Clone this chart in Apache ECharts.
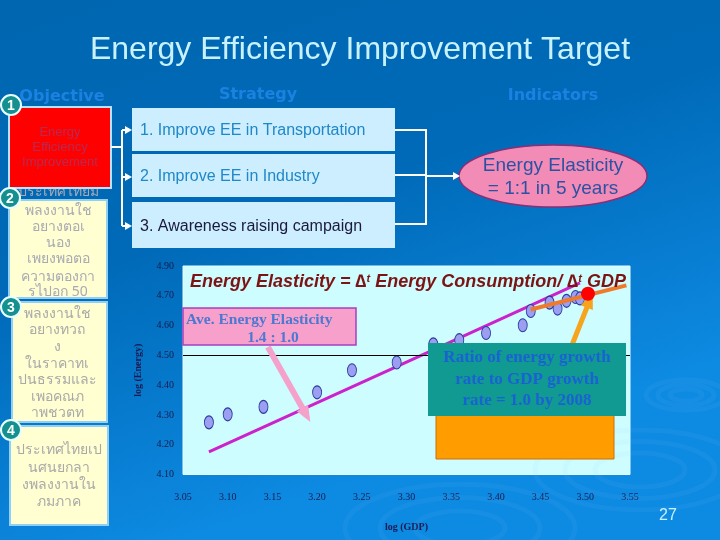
<!DOCTYPE html>
<html><head><meta charset="utf-8">
<script src="https://cdn.jsdelivr.net/npm/echarts@6/dist/echarts.min.js"></script>
<style>html,body{margin:0;padding:0;background:#0068b2;}#c{width:720px;height:540px;}</style>
</head><body><div id="c"></div>
<script>
// ---- data ----
const xTicks = ['3.05','3.10','3.15','3.20','3.25','3.30','3.35','3.40','3.45','3.50','3.55'];
const yTicks = ['4.10','4.20','4.30','4.40','4.50','4.60','4.70','4.90'];
const logGDP    = [3.079,3.100,3.140,3.200,3.239,3.289,3.330,3.359,3.389,3.430,3.439,3.460,3.469,3.479,3.489,3.494];
const logEnergy = [4.275,4.302,4.327,4.376,4.450,4.476,4.537,4.551,4.575,4.601,4.649,4.677,4.657,4.683,4.696,4.691];
const latestX = [3.503];
const latestY = [4.707];
const avgTrendX = [3.079, 3.289, 3.494];
const avgTrendY = [4.176, 4.462, 4.743];
const targetTrendX = [3.439, 3.546];
const targetTrendY = [4.654, 4.735];
const referenceLevel = 4.5;
const pinkArrowFrom = [3.145, 4.528], pinkArrowTo = [3.188, 4.300];
const orangeArrowFrom = [3.485, 4.534], orangeArrowTo = [3.505, 4.685];

const zip = (a, b) => a.map((v, i) => [v, b[i]]);

const chart = echarts.init(document.getElementById('c'), null, {renderer: 'canvas'});

const SANS = '"Liberation Sans", Arial, sans-serif';
const VERD = '"DejaVu Sans", Verdana, sans-serif';
const SERIF = '"Liberation Serif", "Times New Roman", serif';
const THAI = '"Noto Sans", "DejaVu Sans", sans-serif';

function txt(x, y, text, font, fill, align, z) {
  return {type: 'text', x: x, y: y, z: z || 20, silent: true,
    style: {text: text, font: font, fill: fill, align: align || 'center', textAlign: align || 'center',
      verticalAlign: 'middle', textVerticalAlign: 'middle'}};
}
function line(x1, y1, x2, y2, color, w, z) {
  return {type: 'line', z: z || 15, silent: true, shape: {x1, y1, x2, y2}, style: {stroke: color, lineWidth: w}};
}
function head(x, y, color, z) { // right-pointing small arrowhead ending at x
  return {type: 'polygon', z: z || 15, silent: true, shape: {points: [[x, y], [x - 7, y - 4], [x - 7, y + 4]]}, style: {fill: color}};
}
function rect(x, y, w, h, fill, stroke, lw, z) {
  return {type: 'rect', z: z || 10, silent: true, shape: {x, y, width: w, height: h},
    style: {fill: fill, stroke: stroke || null, lineWidth: lw || 0}};
}
function numCircle(cx, cy, n) {
  return [
    {type: 'circle', z: 30, silent: true, shape: {cx, cy, r: 10}, style: {fill: '#13908f', stroke: '#e8ffff', lineWidth: 2}},
    txt(cx, cy + 1, n, 'bold 14px ' + SANS, '#ffffff', 'center', 31)
  ];
}

const graphics = [];
// ripple decorations
[[686, 395, [16, 28, 40]], [640, 470, [45, 75, 105]], [460, 528, [45, 80, 115]]].forEach(r => {
  r[2].forEach(rad => graphics.push({type: 'ellipse', z: 1, silent: true,
    shape: {cx: r[0], cy: r[1], rx: rad, ry: rad * 0.38},
    style: {fill: null, stroke: 'rgba(140,200,255,0.07)', lineWidth: 5}}));
});

// slide title
graphics.push(txt(360, 50, 'Energy Efficiency Improvement Target', '32px ' + SANS, '#c8f2ff'));
// column headers
graphics.push(txt(62, 97, 'Objective', 'bold 16px ' + VERD, '#1c82e2'));
graphics.push(txt(258, 95, 'Strategy', 'bold 16px ' + VERD, '#1c82e2'));
graphics.push(txt(553, 96, 'Indicators', 'bold 16px ' + VERD, '#1c82e2'));

// yellow objective boxes
graphics.push(rect(9, 200, 98, 98, '#ffffd2', '#8fd0f4', 2, 10));
graphics.push(rect(12, 302, 95, 120, '#ffffd2', '#8fd0f4', 2, 10));
graphics.push(rect(10, 426, 98, 99, '#ffffd2', '#8fd0f4', 2, 10));
const obj2 = ['ประเทศไทยม', 'พลงงานใช', 'อยางตอเ', 'นอง', 'เพยงพอตอ', 'ความตองกา', 'รไปอก 50'];
const obj2y = [192, 211, 227, 243, 259, 277, 292];
obj2.forEach((t, i) => graphics.push(txt(58, obj2y[i], t, '14px ' + THAI, '#a9a9b4', 'center', 12)));
const obj3 = ['พลงงานใช', 'อยางทวถ', 'ง', 'ในราคาทเ', 'ปนธรรมและ', 'เพอคณภ', 'าพชวตท'];
const obj3y = [314, 330, 347, 364, 380, 397, 413];
obj3.forEach((t, i) => graphics.push(txt(57, obj3y[i], t, '14px ' + THAI, '#a9a9a9', 'center', 12)));
const obj4 = ['ประเทศไทยเป', 'นศนยกลา', 'งพลงงานใน', 'ภมภาค'];
const obj4y = [450, 468, 485, 502];
obj4.forEach((t, i) => graphics.push(txt(59, obj4y[i], t, '14px ' + THAI, '#a9a9a9', 'center', 12)));

// red objective box
graphics.push(rect(9, 107, 102, 81, '#ff0000', '#b4e2ff', 2, 14));
['Energy', 'Efficiency', 'Improvement'].forEach((t, i) =>
  graphics.push(txt(60, 132 + i * 15, t, '13px ' + SANS, '#b82a52', 'center', 16)));

// strategy boxes
graphics.push(rect(132, 108, 263, 43, '#cdeeff', null, 0, 10));
graphics.push(rect(132, 154, 263, 43, '#cdeeff', null, 0, 10));
graphics.push(rect(132, 202, 263, 46, '#cdeeff', null, 0, 10));
graphics.push(txt(140, 131, '1. Improve EE in Transportation', '16px ' + SANS, '#2088c8', 'left', 12));
graphics.push(txt(140, 177, '2. Improve EE in Industry', '16px ' + SANS, '#2088c8', 'left', 12));
graphics.push(txt(140, 227, '3. Awareness raising campaign', '16px ' + SANS, '#1a1a3c', 'left', 12));

// connectors (left)
graphics.push(line(111, 147, 122, 147, '#ffffff', 2));
graphics.push(line(122, 130, 122, 226, '#ffffff', 2));
[130, 177, 226].forEach(y => { graphics.push(line(122, y, 127, y, '#ffffff', 2)); graphics.push(head(132, y, '#ffffff')); });
// connectors (right)
[130, 175, 224].forEach(y => graphics.push(line(395, y, 426, y, '#ffffff', 2)));
graphics.push(line(426, 129, 426, 225, '#ffffff', 2));
graphics.push(line(426, 176, 454, 176, '#ffffff', 2));
graphics.push(head(460, 176, '#ffffff'));

// indicator ellipse
graphics.push({type: 'ellipse', z: 10, silent: true, shape: {cx: 553, cy: 176, rx: 94, ry: 31},
  style: {fill: '#f28bb6', stroke: '#8c2e74', lineWidth: 1.5}});
graphics.push(txt(553, 166, 'Energy Elasticity', '19px ' + SANS, '#2a52a4', 'center', 12));
graphics.push(txt(553, 189, '= 1:1 in 5 years', '19px ' + SANS, '#2a52a4', 'center', 12));

// number circles
graphics.push(...numCircle(11, 105, '1'));
graphics.push(...numCircle(10, 198, '2'));
graphics.push(...numCircle(11, 307, '3'));
graphics.push(...numCircle(11, 430, '4'));

// chart annotations
graphics.push({type: 'text', x: 190, y: 282, z: 40, silent: true,
  style: {text: '{a|Energy Elasticity = ∆}{s|t}{a| Energy Consumption/ ∆}{s|t}{a| GDP}',
    verticalAlign: 'middle', textVerticalAlign: 'middle',
    rich: {a: {font: 'italic bold 18px ' + SANS, fill: '#7c1414', color: '#7c1414'},
           s: {font: 'italic bold 11px ' + SANS, fill: '#7c1414', color: '#7c1414', verticalAlign: 'top'}}}});
graphics.push(rect(183, 308, 173, 37, '#f6a0cb', '#a640c0', 1.5, 40));
graphics.push(txt(186, 320, 'Ave. Energy Elasticity', 'bold 15.5px ' + SERIF, '#4c78d2', 'left', 41));
graphics.push(txt(273, 338, '1.4 : 1.0', 'bold 15.5px ' + SERIF, '#4c78d2', 'center', 41));
graphics.push(rect(436, 400, 178, 59, '#ff9c00', '#c8700c', 1, 38));
graphics.push(rect(428, 343, 198, 73, '#109a92', null, 0, 40));
['Ratio of energy growth', 'rate to GDP growth', 'rate = 1.0 by 2008'].forEach((t, i) =>
  graphics.push(txt(527, 358 + i * 21.5, t, 'bold 17px ' + SERIF, '#1a62d2', 'center', 41)));
graphics.push(txt(668, 516, '27', '16px ' + SANS, '#c8f2ff', 'center', 20));

const option = {
  animation: false,
  backgroundColor: {type: 'linear', x: 0, y: 0, x2: 0.25, y2: 1,
    colorStops: [{offset: 0, color: '#0066b0'}, {offset: 0.5, color: '#006ab8'}, {offset: 1, color: '#0d8ae2'}]},
  grid: {left: 183, right: 90, top: 266, bottom: 65.5, show: true,
    backgroundColor: '#cdfdff', borderColor: '#e4ffff', borderWidth: 1},
  xAxis: {type: 'value', min: 3.05, max: 3.55, interval: 0.05,
    name: 'log (GDP)', nameLocation: 'middle', nameGap: 48,
    nameTextStyle: {color: '#1a1a50', fontSize: 10, fontFamily: 'Liberation Serif', fontWeight: 'bold'},
    axisLine: {show: false}, axisTick: {show: false}, splitLine: {show: false},
    axisLabel: {margin: 18, color: '#1a1a4e', fontSize: 10, fontFamily: 'Liberation Serif',
      formatter: (v, i) => xTicks[i]}},
  yAxis: {type: 'value', min: 4.1, max: 4.8, interval: 0.1,
    name: 'log (Energy)', nameLocation: 'middle', nameGap: 40, nameRotate: 90,
    nameTextStyle: {color: '#1a1a50', fontSize: 10, fontFamily: 'Liberation Serif', fontWeight: 'bold'},
    axisLine: {show: false}, axisTick: {show: false}, splitLine: {show: false},
    axisLabel: {margin: 9, color: '#1a1a4e', fontSize: 10, fontFamily: 'Liberation Serif',
      formatter: (v, i) => yTicks[i]}},
  series: [
    {type: 'line', name: 'avg', data: zip(avgTrendX, avgTrendY), symbol: 'none', z: 2,
      lineStyle: {color: '#cc22cc', width: 3}},
    {type: 'scatter', name: 'points', data: zip(logGDP, logEnergy), symbol: 'circle', symbolSize: [9, 13], z: 3,
      itemStyle: {color: '#9c9ef2', borderColor: '#2a3a9c', borderWidth: 1, opacity: 1},
      markLine: {silent: true, symbol: 'none', animation: false, label: {show: false},
        lineStyle: {color: '#000000', width: 1, type: 'solid'},
        data: [{yAxis: referenceLevel}]}},
    {type: 'line', name: 'target', data: zip(targetTrendX, targetTrendY), symbol: 'none', z: 4,
      lineStyle: {color: '#f07a2c', width: 4}},
    {type: 'scatter', name: 'latest', data: zip(latestX, latestY), symbol: 'circle', symbolSize: 14, z: 5,
      itemStyle: {color: '#ff0000', opacity: 1}},
    {type: 'line', name: 'arrows', data: [], z: 45,
      markLine: {silent: true, animation: false, label: {show: false}, symbolSize: [13, 16],
        data: [
          [{coord: pinkArrowFrom, symbol: 'none', lineStyle: {color: '#f4a2cc', width: 6, type: 'solid'}},
           {coord: pinkArrowTo, symbol: 'triangle'}],
          [{coord: orangeArrowFrom, symbol: 'none', lineStyle: {color: '#f6a41e', width: 5, type: 'solid'}},
           {coord: orangeArrowTo, symbol: 'triangle'}]
        ]}}
  ],
  graphic: graphics
};
chart.setOption(option);
</script>
</body></html>
